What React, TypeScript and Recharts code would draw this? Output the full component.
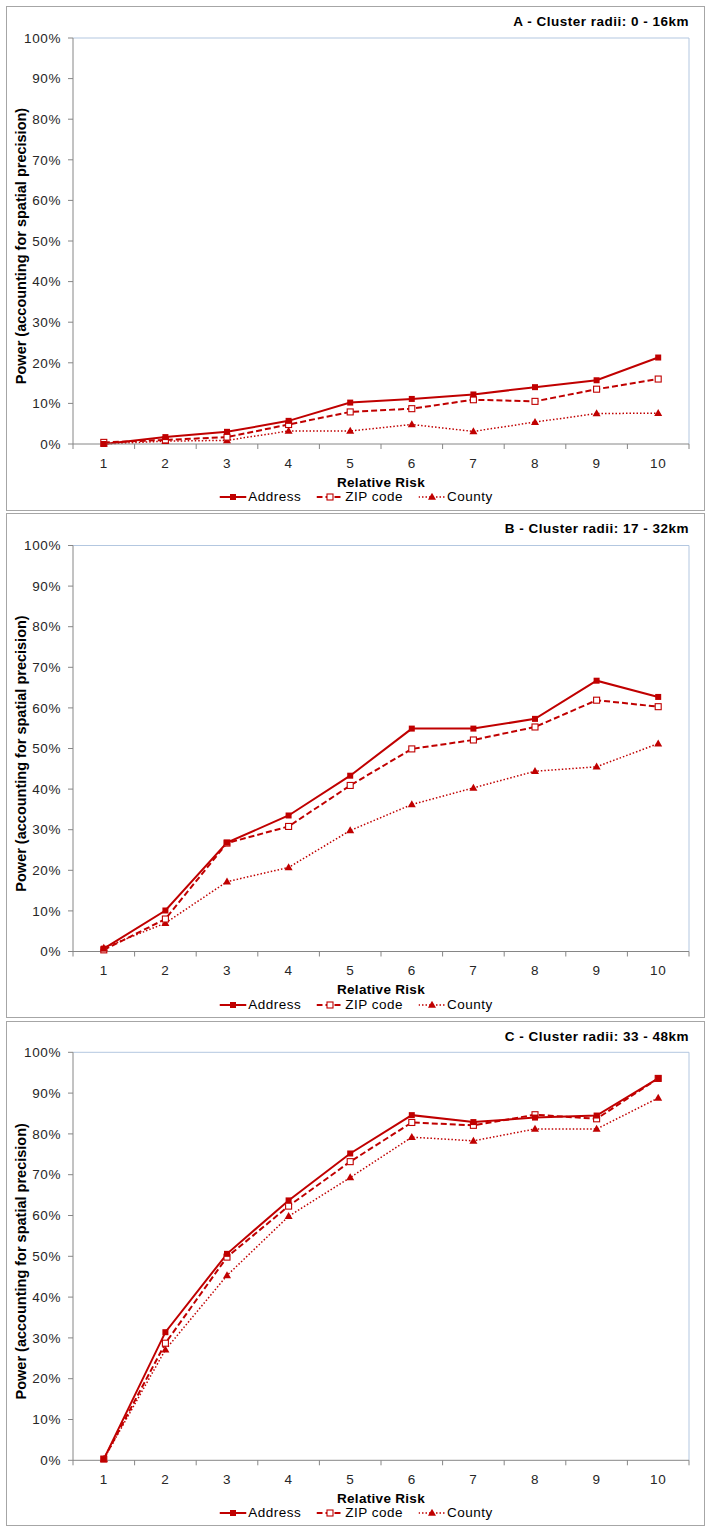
import React from 'react';
import { LineChart, Line, XAxis, YAxis, ReferenceLine, Legend } from 'recharts';

const relativeRisk = [1, 2, 3, 4, 5, 6, 7, 8, 9, 10];
const boundaryTicks = [0.5, 1.5, 2.5, 3.5, 4.5, 5.5, 6.5, 7.5, 8.5, 9.5, 10.5];
const yTicks = [0, 10, 20, 30, 40, 50, 60, 70, 80, 90, 100];

const addressA = [0.0, 1.7, 3.0, 5.7, 10.2, 11.1, 12.2, 14.0, 15.7, 21.3];
const zipA = [0.4, 1.0, 1.7, 4.8, 7.9, 8.7, 10.9, 10.5, 13.5, 16.0];
const countyA = [0.0, 0.7, 0.9, 3.2, 3.2, 4.8, 3.1, 5.4, 7.5, 7.6];

const addressB = [0.7, 10.1, 26.8, 33.5, 43.3, 54.9, 54.9, 57.3, 66.7, 62.7];
const zipB = [0.4, 8.0, 26.7, 30.8, 40.9, 49.9, 52.1, 55.3, 61.9, 60.3];
const countyB = [0.9, 7.0, 17.2, 20.7, 29.8, 36.2, 40.3, 44.4, 45.5, 51.2];

const addressC = [0.3, 31.4, 50.6, 63.7, 75.2, 84.6, 82.9, 84.0, 84.5, 93.6];
const zipC = [0.3, 28.7, 49.8, 62.3, 73.2, 82.8, 82.1, 84.7, 83.7, 93.6];
const countyC = [0.3, 27.1, 45.3, 59.8, 69.3, 79.2, 78.3, 81.2, 81.2, 88.8];

const seriesNames = ['Address', 'ZIP code', 'County'];
const panelTitles = ['A - Cluster radii: 0 - 16km', 'B - Cluster radii: 17 - 32km', 'C - Cluster radii: 33 - 48km'];
const yLabel = 'Power (accounting for spatial precision)';
const xLabel = 'Relative Risk';

const RED = '#C00000';
const AXIS = '#868686';
const FRAME = '#B3C7E0';
const TEXT = '#262626';
const FONT = '"Liberation Sans", Arial, sans-serif';

const build = (a: number[], z: number[], c: number[]) =>
  relativeRisk.map((rr, i) => ({ rr, address: a[i], zip: z[i], county: c[i] }));

const CHART_W = 705;
const CHART_H = 506;

const panels = [
  { title: panelTitles[0], data: build(addressA, zipA, countyA), top: 6, mTop: 32, plotH: 406 },
  { title: panelTitles[1], data: build(addressB, zipB, countyB), top: 513, mTop: 32.5, plotH: 406 },
  { title: panelTitles[2], data: build(addressC, zipC, countyC), top: 1021, mTop: 31.3, plotH: 408 },
];

const SquareDot = (props: any) => {
  const { cx, cy, index } = props;
  if (cx == null || cy == null) return <g key={index} />;
  return <rect key={index} x={cx - 3} y={cy - 3} width={6} height={6} fill={RED} />;
};
const OpenSquareDot = (props: any) => {
  const { cx, cy, index } = props;
  if (cx == null || cy == null) return <g key={index} />;
  return <rect key={index} x={cx - 3} y={cy - 3} width={6} height={6} fill="#fff" stroke={RED} strokeWidth={1.1} />;
};
const TriangleDot = (props: any) => {
  const { cx, cy, index } = props;
  if (cx == null || cy == null) return <g key={index} />;
  return <path key={index} d={`M${cx},${cy - 4.2} L${cx + 4},${cy + 2.8} L${cx - 4},${cy + 2.8} Z`} fill={RED} />;
};

const XTick = (props: any) => {
  const { x, y, payload } = props;
  const v = payload.value;
  if (Math.abs(v % 1) > 0.01) {
    return <line x1={x} x2={x} y1={y} y2={y + 5} stroke={AXIS} strokeWidth={1} />;
  }
  return (
    <text x={x} y={y + 19} textAnchor="middle" dominantBaseline="central" fill={TEXT} fontSize={13.5} fontFamily={FONT} letterSpacing={0.6}>
      {v}
    </text>
  );
};

const LegendIcon = ({ kind }: { kind: number }) => {
  const dash = kind === 0 ? undefined : kind === 1 ? '6 3' : '1.5 2';
  const sw = kind === 2 ? 1.5 : 2;
  return (
    <svg width={27} height={10} style={{ display: 'block' }}>
      <line x1={0} x2={27} y1={5} y2={5} stroke={RED} strokeWidth={sw} strokeDasharray={dash} />
      {kind === 0 && <rect x={10.5} y={2} width={6} height={6} fill={RED} />}
      {kind === 1 && <rect x={10.5} y={2} width={6} height={6} fill="#fff" stroke={RED} strokeWidth={1.1} />}
      {kind === 2 && <path d="M13.5,0.8 L17.5,7.8 L9.5,7.8 Z" fill={RED} />}
    </svg>
  );
};

const renderLegend = () => (
  <div style={{ display: 'flex', justifyContent: 'center', alignItems: 'center', height: 16, transform: 'translateX(3.5px)' }}>
    {seriesNames.map((n, i) => (
      <div key={n} style={{ display: 'flex', alignItems: 'center', marginLeft: i === 0 ? 0 : 15 }}>
        <LegendIcon kind={i} />
        <span style={{ marginLeft: 2, fontFamily: FONT, fontSize: 13.5, letterSpacing: 0.5, color: '#000', lineHeight: '16px' }}>{n}</span>
      </div>
    ))}
  </div>
);

const Panel = ({ p }: { p: (typeof panels)[number] }) => {
  const xAxisH = 60;
  const mBottom = CHART_H - p.mTop - p.plotH - xAxisH;
  const plotBottom = p.mTop + p.plotH;
  return (
    <div style={{ position: 'absolute', left: 0, top: p.top, width: CHART_W, height: CHART_H }}>
      <div
        style={{
          position: 'absolute', left: 6, top: 0, width: 699, height: CHART_H - 1,
          border: '1.5px solid #A6A6A6', boxSizing: 'border-box', pointerEvents: 'none',
        }}
      />
      <div
        style={{
          position: 'absolute', left: 0, width: 689, top: 16 - 9, height: 18, lineHeight: '18px',
          textAlign: 'right', fontFamily: FONT, fontWeight: 'bold', fontSize: 13.5, letterSpacing: 0.5, color: '#000',
        }}
      >
        {p.title}
      </div>
      <LineChart width={CHART_W} height={CHART_H} data={p.data} margin={{ top: p.mTop, right: 16, bottom: mBottom, left: 12 }}>
        <XAxis
          dataKey="rr"
          type="number"
          domain={[0.5, 10.5]}
          ticks={boundaryTicks.concat(relativeRisk)}
          interval={0}
          height={xAxisH}
          tickSize={0}
          tickMargin={0}
          tickLine={false}
          axisLine={{ stroke: AXIS, strokeWidth: 1 }}
          tick={<XTick />}
          label={{
            value: xLabel,
            content: (lp: any) => {
              const vb = lp.viewBox;
              return (
                <text x={vb.x + vb.width / 2} y={vb.y + 38} textAnchor="middle" dominantBaseline="central" fontFamily={FONT} fontWeight="bold" fontSize={13.5} letterSpacing={0.3} fill="#000">
                  {xLabel}
                </text>
              );
            },
          }}
        />
        <YAxis
          type="number"
          domain={[0, 100]}
          ticks={yTicks}
          interval={0}
          width={61}
          tickSize={5}
          tickMargin={7}
          tickFormatter={(v: number) => `${v}%`}
          tick={{ fill: TEXT, fontSize: 13.5, fontFamily: FONT, letterSpacing: 0.6 }}
          tickLine={{ stroke: AXIS }}
          axisLine={{ stroke: AXIS, strokeWidth: 1 }}
          label={{
            value: yLabel,
            content: (lp: any) => {
              const vb = lp.viewBox;
              const cx = vb.x + 9;
              const cy = vb.y + vb.height / 2 + 5;
              return (
                <text x={cx} y={cy} transform={`rotate(-90, ${cx}, ${cy})`} textAnchor="middle" dominantBaseline="central" fontFamily={FONT} fontWeight="bold" fontSize={14.5} fill="#000">
                  {yLabel}
                </text>
              );
            },
          }}
        />
        <ReferenceLine y={100} stroke={FRAME} strokeWidth={1} />
        <ReferenceLine x={10.5} stroke={FRAME} strokeWidth={1} />
        <Line type="linear" dataKey="county" name={seriesNames[2]} stroke={RED} strokeWidth={1.5} strokeDasharray="1.5 2" dot={TriangleDot} activeDot={false} isAnimationActive={false} />
        <Line type="linear" dataKey="zip" name={seriesNames[1]} stroke={RED} strokeWidth={2} strokeDasharray="6 3" dot={OpenSquareDot} activeDot={false} isAnimationActive={false} />
        <Line type="linear" dataKey="address" name={seriesNames[0]} stroke={RED} strokeWidth={2} dot={SquareDot} activeDot={false} isAnimationActive={false} />
        <Legend
          layout="vertical"
          align="center"
          verticalAlign="middle"
          wrapperStyle={{ left: 0, top: plotBottom + 53 - 8, width: CHART_W, bottom: 'auto', right: 'auto' }}
          content={renderLegend}
        />
      </LineChart>
    </div>
  );
}

export default function App() {
  return (
    <div style={{ position: 'relative', width: 711, height: 1535, background: '#fff' }}>
      <style>{`body { margin: 0; background: #fff; }`}</style>
      {panels.map((p) => (
        <Panel key={p.title} p={p} />
      ))}
    </div>
  );
}
